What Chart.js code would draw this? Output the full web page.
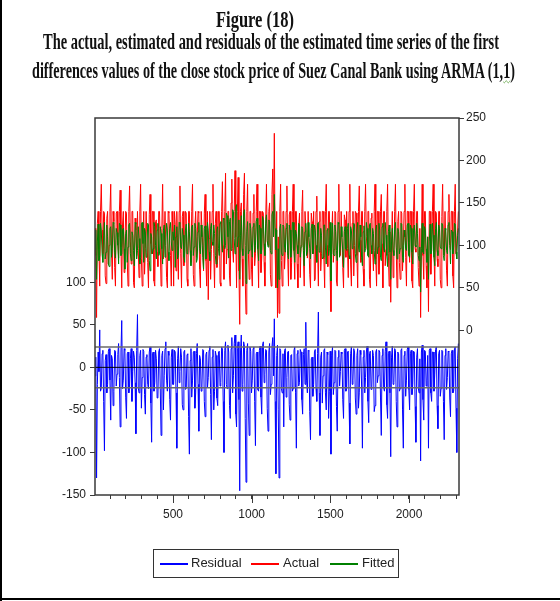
<!DOCTYPE html>
<html>
<head>
<meta charset="utf-8">
<title>Figure (18)</title>
<script src="https://cdn.jsdelivr.net/npm/chart.js@4.4.1/dist/chart.umd.min.js"></script>
<style>
  html, body { margin: 0; padding: 0; background: #fff; }
  #page { position: relative; width: 560px; height: 601px; overflow: hidden; }
  #chart { position: absolute; left: 0; top: 0; }
  .edge { position: absolute; background: #000; }
  .t { position: absolute; white-space: nowrap; font: bold 24px "Liberation Serif", "Times New Roman", serif;
       line-height: 24px; color: #111; transform-origin: 0 0; }
  .squiggle { text-decoration: underline wavy #6aa84f; text-decoration-thickness: 1px; }
  #legend { position: absolute; left: 153px; top: 549px; width: 246px; height: 29px; box-sizing: border-box;
            border: 1.5px solid #333; font: 13px "Liberation Sans", Arial, sans-serif; color: #222; }
  #legend .sw { position: absolute; top: 13px; width: 28px; height: 2px; }
  #legend .lb { position: absolute; top: 5px; line-height: 16px; }
</style>
</head>
<body>
<div id="page">
  <canvas id="chart" width="560" height="601"></canvas>
  <div class="edge" style="left:0;top:0;width:2px;height:601px"></div>
  <div class="edge" style="left:0;top:598px;width:560px;height:2px"></div>

  <div class="t" id="t1" style="left:216px;top:7px">Figure (18)</div>
  <div class="t" id="t2" style="left:43px;top:29px">The actual, estimated and residuals of the estimated time series of the first</div>
  <div class="t" id="t3" style="left:32px;top:58px">differences values of the close stock price of Suez Canal Bank using ARMA (1,<span class="squiggle">1</span>)</div>

  <div id="legend">
    <div class="sw" style="left:6px;background:#0000ff"></div><div class="lb" style="left:37px">Residual</div>
    <div class="sw" style="left:97px;background:#ff0000"></div><div class="lb" style="left:129px">Actual</div>
    <div class="sw" style="left:176px;background:#008000"></div><div class="lb" style="left:208px">Fitted</div>
  </div>
</div>

<script>
// observation index of the first point and spacing between plotted observations
const xStart = 4;
const xStep = 5;

const actual = [
  120, 88, 15, 126, 140, 96, 52, 140, 172, 118, 90, 140, 138, 64, 55, 132, 140, 78, 100, 140,
  172, 92, 60, 140, 128, 74, 52, 138, 140, 110, 85, 140, 165, 98, 50, 124, 140, 68, 95, 140,
  138, 82, 52, 140, 170, 104, 78, 140, 140, 56, 50, 132, 118, 88, 140, 96, 62, 140, 172, 84,
  52, 112, 140, 66, 96, 140, 140, 80, 50, 136, 160, 102, 90, 140, 140, 58, 52, 128, 130, 92,
  75, 140, 140, 98, 52, 120, 172, 84, 105, 140, 140, 62, 50, 140, 138, 106, 88, 52, 140, 116,
  52, 140, 125, 70, 140, 100, 60, 140, 170, 90, 50, 134, 140, 76, 92, 140, 138, 60, 52, 140,
  140, 94, 80, 140, 172, 66, 52, 122, 140, 86, 110, 140, 138, 72, 50, 140, 140, 100, 70, 138,
  160, 82, 52, 140, 36, 108, 140, 60, 95, 140, 172, 90, 50, 126, 140, 74, 85, 140, 140, 56,
  52, 140, 175, 100, 60, 140, 185, 78, 95, 140, 140, 64, 52, 150, 178, 96, 80, 140, 188, 110,
  50, 140, 180, 70, 7, 140, 150, 84, 52, 160, 185, 60, 19, 140, 172, 92, 60, 140, 140, 72,
  52, 138, 160, 76, 90, 140, 172, 98, 50, 140, 140, 68, 85, 140, 138, 80, 52, 130, 172, 104,
  100, 140, 150, 66, 52, 160, 190, 120, 232, 96, 50, 140, 15, 110, 20, 140, 172, 82, 52, 140,
  140, 72, 95, 140, 170, 88, 52, 136, 140, 60, 80, 140, 172, 94, 60, 140, 140, 78, 50, 122,
  138, 62, 100, 140, 165, 84, 52, 140, 140, 104, 85, 140, 140, 66, 50, 138, 128, 90, 140, 58,
  60, 140, 158, 96, 52, 128, 140, 70, 90, 140, 140, 84, 50, 140, 172, 100, 75, 140, 140, 62,
  22, 112, 140, 80, 95, 140, 138, 58, 52, 140, 172, 98, 88, 140, 140, 74, 50, 136, 130, 86,
  140, 96, 62, 140, 172, 78, 52, 126, 140, 64, 100, 140, 138, 88, 50, 140, 170, 106, 80, 140,
  140, 72, 52, 140, 172, 110, 95, 140, 140, 60, 50, 132, 138, 94, 70, 140, 172, 84, 52, 140,
  140, 66, 88, 140, 160, 102, 50, 140, 140, 76, 95, 140, 172, 90, 52, 116, 33, 100, 140, 62,
  85, 140, 172, 94, 50, 128, 140, 80, 60, 140, 138, 70, 100, 140, 172, 86, 52, 140, 140, 104,
  80, 140, 140, 58, 50, 140, 172, 96, 92, 140, 140, 74, 52, 120, 15, 100, 172, 88, 60, 140,
  140, 76, 50, 110, 22, 140, 140, 66, 95, 140, 172, 92, 52, 140, 138, 84, 75, 140, 140, 60,
  50, 134, 172, 96, 88, 140, 140, 70, 52, 140, 160, 102, 95, 140, 140, 64, 50, 140, 172, 90,
  90, 118, 140
];

const fitted = [
  95, 118, 60, 104, 125, 82, 88, 126, 118, 90, 80, 112, 127, 84, 92, 124, 110, 78, 75, 120,
  122, 86, 96, 127, 126, 92, 85, 120, 115, 100, 78, 126, 124, 88, 90, 118, 120, 96, 72, 114,
  118, 80, 98, 124, 126, 90, 82, 116, 112, 94, 76, 127, 125, 84, 94, 122, 108, 78, 86, 125,
  127, 102, 80, 120, 116, 86, 92, 126, 124, 82, 70, 114, 110, 90, 96, 127, 122, 100, 84, 118,
  126, 88, 90, 122, 114, 96, 78, 118, 124, 86, 100, 126, 118, 92, 82, 120, 127, 104, 94, 116,
  106, 124, 74, 110, 122, 84, 88, 127, 126, 98, 96, 120, 112, 86, 80, 118, 125, 90, 92, 126,
  116, 94, 76, 122, 124, 88, 98, 126, 120, 80, 84, 116, 127, 96, 90, 124, 110, 86, 72, 120,
  123, 84, 95, 127, 118, 92, 82, 120, 126, 104, 100, 124, 114, 88, 78, 118, 122, 96, 88, 126,
  128, 104, 92, 132, 130, 96, 100, 138, 135, 110, 85, 128, 132, 94, 96, 142, 140, 108, 90, 145,
  148, 98, 110, 130, 60, 112, 135, 96, 88, 138, 142, 100, 55, 116, 128, 90, 94, 126, 120, 98,
  86, 122, 126, 92, 100, 128, 132, 96, 82, 124, 120, 90, 95, 134, 130, 102, 88, 126, 136, 106,
  98, 130, 128, 94, 90, 136, 140, 110, 160, 120, 95, 118, 50, 96, 60, 120, 125, 92, 88, 124,
  122, 98, 92, 120, 126, 90, 84, 124, 118, 86, 96, 127, 127, 94, 80, 118, 114, 100, 90, 126,
  124, 86, 98, 122, 120, 94, 76, 116, 126, 88, 92, 127, 110, 96, 84, 120, 125, 90, 96, 124,
  118, 100, 80, 126, 127, 92, 94, 120, 112, 84, 86, 124, 124, 98, 78, 118, 120, 88, 96, 127,
  58, 104, 126, 90, 88, 124, 116, 94, 82, 127, 125, 86, 98, 122, 110, 92, 74, 116, 122, 96,
  94, 120, 126, 88, 84, 122, 118, 96, 100, 126, 124, 90, 80, 118, 127, 98, 92, 124, 110, 86,
  76, 116, 123, 92, 96, 127, 120, 88, 86, 124, 126, 100, 90, 120, 114, 94, 78, 118, 124, 90,
  98, 126, 118, 86, 82, 122, 126, 96, 92, 127, 112, 88, 75, 116, 124, 92, 60, 104, 120, 94,
  88, 122, 127, 98, 84, 120, 116, 90, 96, 126, 125, 86, 80, 118, 110, 96, 94, 124, 126, 88,
  86, 124, 120, 92, 78, 118, 124, 100, 98, 126, 114, 88, 82, 98, 45, 96, 126, 92, 90, 122,
  118, 96, 80, 110, 60, 104, 125, 90, 94, 126, 112, 86, 76, 120, 127, 94, 88, 124, 120, 98,
  96, 126, 124, 88, 82, 120, 118, 94, 90, 124, 127, 100, 78, 118, 116, 90, 98, 126, 125, 92,
  84, 112, 120
];

const residual = [
  -10, 12, -130, -20, 18, -5, 44, -28, -25, 16, 20, -40, -98, 8, 15, -30, -20, 19, 22, -15,
  -62, 14, 10, -45, -28, 20, 19, -22, -8, 15, 28, -12, -70, 18, 55, -25, -15, 22, 20, -35,
  -60, 16, 18, -30, -22, 10, 22, -40, -5, 19, 12, -18, -78, 20, 62, -24, -30, 14, 20, -48,
  -12, 21, 19, -32, -55, 12, 15, -20, -25, 18, 24, -42, -88, 16, 18, -28, -18, 20, 10, -36,
  -35, 18, 22, -25, -80, 14, 19, -50, -10, 22, 30, -15, -28, 19, 14, -38, -62, 12, 21, -20,
  -20, 20, 18, -30, -95, 10, 25, -18, -5, 22, 12, -44, -50, 18, 20, -26, -25, 15, 16, -58,
  -102, 8, 22, -35, -15, 18, 19, -48, -30, 16, 28, -20, -75, 14, 10, -28, -22, 21, 20, -40,
  -58, 15, 18, -24, -12, 20, 25, -32, -85, 12, 21, -50, -28, 19, 14, -36, -45, 18, 19, -22,
  -18, 24, 22, -40, -100, 20, 30, -20, -25, 26, 18, -45, -60, 22, 35, -30, -10, 28, 38, -55,
  -70, 22, 30, -38, -145, 18, 38, -28, -20, 30, 25, -60, -135, 20, 28, -42, -80, 24, 19, -30,
  -15, 22, 24, -40, -92, 16, 18, -26, -28, 20, 25, -35, -55, 26, 30, -18, -8, 21, 20, -48,
  -75, 18, 28, -32, -20, 24, 35, -10, 57, -40, -125, 14, 26, -50, -130, 22, 20, -25, -30, 16,
  -70, 20, 22, -35, -12, 18, 19, -44, -62, 14, 15, -28, -25, 20, 24, -30, -95, 16, 20, -22,
  -18, 21, 18, -38, -55, 15, 22, -20, 53, -15, -30, 20, 19, -52, -85, 10, 12, -34, -20, 18,
  21, -25, -40, 16, 65, -30, -80, 12, 18, -42, -10, 20, 22, -30, -50, 18, 15, -60, -28, 19,
  -102, 14, 24, -32, -18, 20, 19, -46, -75, 12, 20, -22, -5, 18, 16, -38, -60, 20, 22, -28,
  -25, 18, 19, -42, -90, 16, 24, -20, -15, 22, 18, -36, -55, 14, 22, -48, -30, 20, 15, -24,
  -95, 12, 20, -30, -12, 18, 25, -40, -65, 16, 19, -26, -22, 20, 14, -52, -45, 18, 21, -18,
  -10, 20, 18, -36, -80, 14, 22, -24, -28, 19, 30, -44, -60, 16, 19, -30, -105, 12, 25, -20,
  -18, 22, 20, -40, -70, 18, 16, -28, -25, 20, 22, -50, -95, 14, 19, -34, -15, 21, 24, -26,
  -50, 16, 20, -32, -20, 19, 18, -46, -88, 12, 22, -24, -30, 10, -110, 18, 26, -38, -62, 20,
  19, -22, -15, 14, -95, 20, 22, -30, -40, 18, 18, -28, -8, 21, 24, -45, -72, 16, 20, -34,
  -25, 20, 19, -40, -85, 14, 22, -26, -12, 19, 18, -36, -58, 16, 20, -30, -28, 22, 24, -48,
  -100, 10, 28
];

// +/- one standard error band around the residuals
const residualBand = 24;

const xMin = 4;
const xMax = 2318;
const xMinorTicks = [100, 200, 300, 400, 500, 600, 700, 800, 900, 1000, 1100, 1200,
  1300, 1400, 1500, 1600, 1700, 1800, 1900, 2000, 2100, 2200, 2300];
const xLabels = [500, 1000, 1500, 2000];
const leftTicks = [-150, -100, -50, 0, 50, 100];
const rightTicks = [0, 50, 100, 150, 200, 250];

const toPoints = arr => arr.map((v, i) => ({ x: xStart + i * xStep, y: v }));
const hline = y => [{ x: xMin, y: y }, { x: xMax, y: y }];

const tickFont = { family: '"Liberation Sans", Arial, sans-serif', size: 12 };

const lineDefaults = { borderWidth: 1, pointRadius: 0, tension: 0, fill: false };

// frame around the plot and longer marks at the labelled x ticks
const framePlugin = {
  id: 'frame',
  afterDraw(chart) {
    const { ctx, chartArea: a, scales } = chart;
    ctx.save();
    ctx.strokeStyle = '#3a3a3a';
    ctx.lineWidth = 1.5;
    ctx.strokeRect(a.left, a.top, a.right - a.left, a.bottom - a.top);
    ctx.lineWidth = 1;
    xLabels.forEach(v => {
      const px = Math.round(scales.x.getPixelForValue(v)) + 0.5;
      ctx.beginPath();
      ctx.moveTo(px, a.bottom);
      ctx.lineTo(px, a.bottom + 8);
      ctx.stroke();
    });
    ctx.restore();
  }
};

new Chart(document.getElementById('chart').getContext('2d'), {
  type: 'line',
  data: {
    datasets: [
      { ...lineDefaults, label: 'Residual', data: toPoints(residual), yAxisID: 'yL', borderColor: '#0000ff', order: 3 },
      { ...lineDefaults, label: 'Actual', data: toPoints(actual), yAxisID: 'yR', borderColor: '#ff0000', order: 2 },
      { ...lineDefaults, label: 'Fitted', data: toPoints(fitted), yAxisID: 'yR', borderColor: '#008000', order: 1 },
      { ...lineDefaults, label: 'upper', data: hline(residualBand), yAxisID: 'yL', borderColor: '#6a6a6a', borderWidth: 1.5, order: 0 },
      { ...lineDefaults, label: 'lower', data: hline(-residualBand), yAxisID: 'yL', borderColor: '#6a6a6a', borderWidth: 1.5, order: 0 },
      { ...lineDefaults, label: 'zero', data: hline(0), yAxisID: 'yL', borderColor: '#000000', borderWidth: 1, order: 0 }
    ]
  },
  options: {
    responsive: false,
    animation: false,
    devicePixelRatio: 1,
    layout: { padding: { top: 118, bottom: 66, left: 0, right: 0 } },
    plugins: { legend: { display: false }, tooltip: { enabled: false } },
    scales: {
      x: {
        type: 'linear',
        position: 'bottom',
        min: xMin,
        max: xMax,
        afterBuildTicks: s => { s.ticks = xMinorTicks.map(v => ({ value: v })); },
        afterFit: s => { s.height = 40; },
        border: { display: false },
        grid: { drawOnChartArea: false, tickLength: 4, color: '#3a3a3a' },
        ticks: {
          autoSkip: false, maxRotation: 0, padding: 8, font: tickFont, color: '#222',
          callback: v => (xLabels.includes(v) ? String(v) : '')
        }
      },
      yL: {
        type: 'linear',
        position: 'left',
        min: -150,
        max: 293,
        afterBuildTicks: s => { s.ticks = leftTicks.map(v => ({ value: v })); },
        afterFit: s => { s.width = 95; },
        border: { display: false },
        grid: { drawOnChartArea: false, tickLength: 5, color: '#3a3a3a' },
        ticks: { padding: 4, font: tickFont, color: '#222' }
      },
      yR: {
        type: 'linear',
        position: 'right',
        min: -194,
        max: 250,
        afterBuildTicks: s => { s.ticks = rightTicks.map(v => ({ value: v })); },
        afterFit: s => { s.width = 101; },
        border: { display: false },
        grid: { drawOnChartArea: false, tickLength: 5, color: '#3a3a3a' },
        ticks: { padding: 2, font: tickFont, color: '#222' }
      }
    }
  },
  plugins: [framePlugin]
});

// squeeze the heading lines to their condensed widths
const titleWidths = { t1: 78, t2: 456, t3: 483 };
Object.keys(titleWidths).forEach(id => {
  const el = document.getElementById(id);
  const w = el.getBoundingClientRect().width;
  el.style.transform = 'scaleX(' + (titleWidths[id] / w) + ')';
});
</script>
</body>
</html>
